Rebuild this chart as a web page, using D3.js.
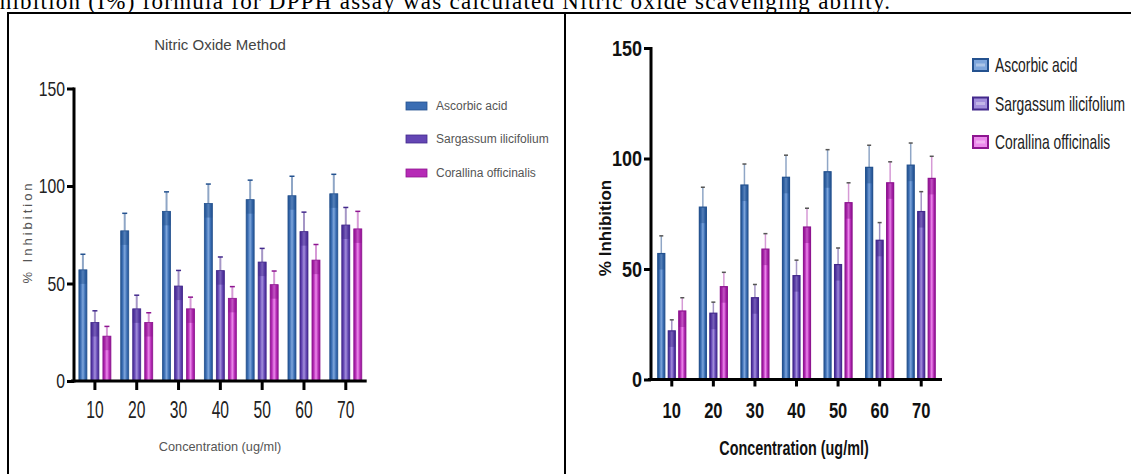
<!DOCTYPE html>
<html><head><meta charset="utf-8">
<script src="https://cdn.jsdelivr.net/npm/d3@7"></script>
<style>html,body{margin:0;padding:0;background:#fff;overflow:hidden}</style>
</head><body>
<svg id="c" width="1131" height="474"></svg>
<script>
// ---------- data ----------
const categories = ["10","20","30","40","50","60","70"];
const seriesNames = ["Ascorbic acid","Sargassum ilicifolium","Corallina officinalis"];
const yTicks = [0,50,100,150];
// Left chart: Nitric Oxide Method
const leftAscorbic   = [57, 77, 87, 91, 93, 95, 96];
const leftAscorbicSD = [8, 9, 10, 10, 10, 10, 10];
const leftSargassum   = [30, 37, 48.7, 56.6, 61, 76.6, 80];
const leftSargassumSD = [6, 7, 8, 7, 7, 10, 9];
const leftCorallina   = [23, 30, 37, 42.4, 49.4, 62, 78];
const leftCorallinaSD = [5, 5, 6, 6, 7, 8, 9];
// Right chart
const rightAscorbic   = [57, 78, 88, 91.5, 94, 96, 97];
const rightAscorbicSD = [8, 9, 9.5, 10, 10, 10, 10];
const rightSargassum   = [22, 30, 37, 47, 52, 63, 76];
const rightSargassumSD = [5, 5, 6, 7, 7.5, 8, 9];
const rightCorallina   = [31, 42, 59, 69, 80, 89, 91];
const rightCorallinaSD = [6, 6.5, 7, 8.5, 9, 9.5, 10];
const leftTitle = "Nitric Oxide Method";
const xTitle = "Concentration (ug/ml)";
const yTitle = "% Inhibition";
const topText = "Inhibition (I%) formula for DPPH assay was calculated Nitric oxide scavenging ability.";

// ---------- styles ----------
const pal = [
  {dark:"#24528f", mid:"#3a6db3", light:"#7ea6dc", err:"#8fa6c6"},
  {dark:"#43298c", mid:"#6446b4", light:"#a38fdc", err:"#a596c6"},
  {dark:"#8e1590", mid:"#b62ab6", light:"#ec8aec", err:"#d69ad6"}
];
const svg = d3.select("#c");
svg.append("rect").attr("width",1131).attr("height",474).attr("fill","#fff");
const defs = svg.append("defs");
pal.forEach((p,i)=>{
  const g = defs.append("linearGradient").attr("id","g"+i).attr("x1",0).attr("x2",1).attr("y1",0).attr("y2",0);
  [[0,p.dark],[0.22,p.mid],[0.5,p.light],[0.78,p.mid],[1,p.dark]].forEach(s=>g.append("stop").attr("offset",s[0]).attr("stop-color",s[1]));
});

function txt(g,x,y,s,o){
  const t = g.append("text")
    .attr("transform",`translate(${x},${y})${o.rot?` rotate(${o.rot})`:""} scale(${o.sx||1},1)`)
    .attr("text-anchor",o.anchor||"middle")
    .attr("dominant-baseline",o.base||"central")
    .style("font-family",o.family||"'Liberation Sans',Arial,sans-serif")
    .style("font-size",o.size+"px")
    .style("font-weight",o.weight||"normal")
    .style("fill",o.fill||"#000")
    .text(s);
  if(o.ls) t.style("letter-spacing",o.ls+"px");
  return t;
}

// ---------- top text & table frame ----------
svg.append("text").attr("x",-22).attr("y",8.5)
  .attr("textLength",912).attr("lengthAdjust","spacing")
  .style("font-family","'Liberation Serif','DejaVu Serif',serif").style("font-size","23px").style("fill","#000")
  .text(topText);
svg.append("line").attr("x1",7).attr("x2",1131).attr("y1",13).attr("y2",13).attr("stroke","#000").attr("stroke-width",2);
svg.append("line").attr("x1",8).attr("x2",8).attr("y1",12).attr("y2",474).attr("stroke","#000").attr("stroke-width",2);
svg.append("line").attr("x1",565).attr("x2",565).attr("y1",12).attr("y2",474).attr("stroke","#000").attr("stroke-width",2);

// ---------- chart builder ----------
function chart(cfg){
  const g = svg.append("g");
  const data = [cfg.a, cfg.s, cfg.c];
  const sds = [cfg.aSD, cfg.sSD, cfg.cSD];
  const x = d3.scaleBand().domain(categories).range(cfg.xr).padding(0);
  const xs = d3.scaleBand().domain(seriesNames).range([-cfg.pitch*1.5, cfg.pitch*1.5]).padding(0);
  const y = d3.scaleLinear().domain([0,150]).range(cfg.yr);

  // bars
  data.forEach((vals,si)=>{
    const p = pal[si];
    vals.forEach((v,ci)=>{
      const cx = x(categories[ci]) + x.bandwidth()/2 + xs(seriesNames[si]) + xs.bandwidth()/2;
      const x0 = cx - cfg.bw/2;
      const top = y(v + sds[si][ci]);
      g.append("line").attr("x1",cx).attr("x2",cx).attr("y1",y(v)).attr("y2",top)
        .attr("stroke",p.err).attr("stroke-width",cfg.errW);
      g.append("line").attr("x1",cx-cfg.cap).attr("x2",cx+cfg.cap).attr("y1",top).attr("y2",top)
        .attr("stroke",cfg.capColor||p.dark).attr("stroke-width",1.5);
      g.append("rect").attr("x",x0).attr("y",y(v)).attr("width",cfg.bw).attr("height",y(0)-y(v))
        .attr("fill",`url(#g${si})`).attr("stroke",p.dark).attr("stroke-width",cfg.stroke);
      g.append("rect").attr("x",x0).attr("y",y(v)).attr("width",cfg.bw).attr("height",Math.min(cfg.topBand,y(0)-y(v)))
        .attr("fill",p.dark).attr("opacity",0.45);
    });
  });

  // axes
  const yAxis = d3.axisLeft(y).tickValues(yTicks).tickSize(cfg.tick).tickFormat(d3.format("d"));
  const ya = g.append("g").attr("transform",`translate(${cfg.xr[0]},0)`).call(yAxis);
  ya.select(".domain").remove();
  ya.selectAll(".tick line").attr("stroke","#000").attr("stroke-width",cfg.axisW);
  ya.selectAll(".tick text").remove();
  g.append("line").attr("x1",cfg.xr[0]).attr("x2",cfg.xr[0]).attr("y1",y(150)-1).attr("y2",y(0)+cfg.axisW/2)
    .attr("stroke","#000").attr("stroke-width",cfg.axisW);
  yTicks.forEach(t=>txt(g,cfg.xr[0]-cfg.tick-2,y(t),String(t),{anchor:"end",size:cfg.labSize,sx:cfg.labSx,weight:cfg.labWeight,fill:cfg.labFill}));

  const xAxis = d3.axisBottom(x).tickSize(cfg.tickX);
  const xa = g.append("g").attr("transform",`translate(0,${y(0)})`).call(xAxis);
  xa.select(".domain").remove();
  xa.selectAll(".tick line").attr("stroke","#000").attr("stroke-width",cfg.axisW);
  xa.selectAll(".tick text").remove();
  g.append("line").attr("x1",cfg.xr[0]-cfg.axisW).attr("x2",cfg.xr[1]).attr("y1",y(0)).attr("y2",y(0))
    .attr("stroke","#000").attr("stroke-width",cfg.axisW);
  categories.forEach(c=>txt(g,x(c)+x.bandwidth()/2,cfg.xLabY,c,{size:cfg.xLabSize,sx:cfg.xLabSx,weight:cfg.labWeight,fill:cfg.labFill}));

  // titles
  txt(g,cfg.xTitle[0],cfg.xTitle[1],xTitle,cfg.xTitleStyle);
  txt(g,cfg.yTitle[0],cfg.yTitle[1],yTitle,Object.assign({rot:-90},cfg.yTitleStyle));
  if(cfg.title) txt(g,cfg.title[0],cfg.title[1],leftTitle,cfg.titleStyle);

  // legend
  seriesNames.forEach((n,si)=>{
    const p = pal[si];
    const ly = cfg.legY[si];
    const L = cfg.leg;
    g.append("rect").attr("x",L.x).attr("y",ly-L.h/2).attr("width",L.w).attr("height",L.h)
      .attr("fill",L.inner?p.light:p.mid).attr("stroke",p.dark).attr("stroke-width",L.stroke);
    if(L.inner){
      g.append("rect").attr("x",L.x+3).attr("y",ly-1.5).attr("width",L.w-6).attr("height",3).attr("fill","#fff").attr("opacity",0.35);
    }
    txt(g,L.tx,ly,n,{anchor:"start",size:L.size,sx:L.sx,fill:L.fill});
  });
}

// left chart
chart({
  a:leftAscorbic,aSD:leftAscorbicSD,s:leftSargassum,sSD:leftSargassumSD,c:leftCorallina,cSD:leftCorallinaSD,
  xr:[74,366.7], yr:[381,88.5], pitch:12, bw:8, cap:2.5, errW:2, stroke:0.8, topBand:14,
  tick:7, tickX:9, axisW:3, labSize:21, labSx:0.75, xLabSize:23, xLabSx:0.68, labFill:"#222",
  xLabY:410,
  xTitle:[220,447], xTitleStyle:{size:12.5, fill:"#555", sx:1.02},
  yTitle:[27,232], yTitleStyle:{size:13, fill:"#555", ls:3},
  title:[220,44], titleStyle:{size:15, fill:"#444", sx:1},
  legY:[106,139,173],
  leg:{x:406,w:21,h:8,stroke:0.8,tx:436,size:12,sx:1,fill:"#555",inner:false}
});

// right chart
chart({
  a:rightAscorbic,aSD:rightAscorbicSD,s:rightSargassum,sSD:rightSargassumSD,c:rightCorallina,cSD:rightCorallinaSD,
  xr:[651,942], yr:[379.5,48], pitch:10.5, bw:7, cap:2, errW:1.5, stroke:1.2, topBand:16, capColor:"#555",
  tick:7, tickX:7, axisW:3, labSize:22, labSx:0.82, xLabSize:22, xLabSx:0.75, labWeight:"bold", labFill:"#111",
  xLabY:410,
  xTitle:[794,448], xTitleStyle:{size:20, weight:"bold", sx:0.72, fill:"#111"},
  yTitle:[605,228], yTitleStyle:{size:17, weight:"bold", fill:"#111"},
  legY:[65,103.5,142],
  leg:{x:973,w:15,h:12,stroke:2,tx:995,size:21,sx:0.66,fill:"#222",inner:true}
});
</script>
</body></html>
